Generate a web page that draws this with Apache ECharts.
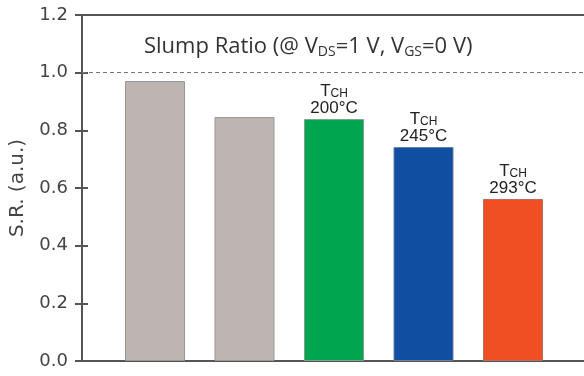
<!DOCTYPE html>
<html><head><meta charset="utf-8">
<script src="https://cdn.jsdelivr.net/npm/echarts@6/dist/echarts.min.js"></script>
<style>html,body{margin:0;padding:0;background:#fff}#c{width:584px;height:376px}</style>
</head><body><div id="c"></div>
<script>
const categories = ['Sample 1', 'Sample 2', 'T_CH 200', 'T_CH 245', 'T_CH 293'];
const values = [0.971, 0.846, 0.839, 0.742, 0.562];
const tempLabels = ['', '', '200°C', '245°C', '293°C'];
const barColors = ['#bdb5b2', '#bdb5b2', '#00a54f', '#0f4ea0', '#f04e23'];
const borderColors = ['#9d9593', '#9d9593', '#7fa08a', '#6f7f9a', '#b07060'];
const refLine = 1.0;

const chart = echarts.init(document.getElementById('c'));
const font = 'Liberation Sans, Arial, sans-serif';
const tickFont = 'DejaVu Sans, sans-serif';
chart.setOption({
  animation: false,
  title: {
    text: 'Slump Ratio (@ V{s|DS}=1 V, V{s|GS}=0 V)',
    left: 139, top: 29,
    textStyle: {
      fontFamily: 'Open Sans, sans-serif', fontSize: 22, fontWeight: 'normal', color: '#333',
      rich: { s: { fontFamily: 'Open Sans, sans-serif', fontSize: 14, color: '#333', verticalAlign: 'bottom', padding: [11, 0, 0, 0] } }
    }
  },
  grid: [
    { left: 80, right: 0, top: 15, bottom: 15 },
    { left: 110.25, width: 447.5, top: 15, bottom: 15 }
  ],
  xAxis: [
    { type: 'category', gridIndex: 0, data: [''], axisLine: { onZero: false, lineStyle: { color: '#555', width: 2 } }, axisTick: { show: false }, axisLabel: { show: false } },
    { type: 'category', gridIndex: 0, position: 'top', data: [''], axisLine: { onZero: false, lineStyle: { color: '#555', width: 2 } }, axisTick: { show: false }, axisLabel: { show: false } },
    { type: 'category', gridIndex: 1, data: categories, axisLine: { show: false }, axisTick: { show: false }, axisLabel: { show: false } }
  ],
  yAxis: [
    { type: 'value', gridIndex: 0, min: 0, max: 1.2, interval: 0.2,
      name: 'S.R. (a.u.)', nameLocation: 'middle', nameGap: 54,
      nameTextStyle: { fontFamily: tickFont, fontSize: 20, color: '#444' },
      axisLine: { show: true, onZero: false, lineStyle: { color: '#555', width: 2 } },
      axisTick: { show: true, length: 7, lineStyle: { color: '#555', width: 2 } },
      axisLabel: { fontFamily: tickFont, fontSize: 18, color: '#444', margin: 14, formatter: v => v.toFixed(1) },
      splitLine: { show: false } },
    { type: 'value', gridIndex: 0, position: 'left', min: 0, max: 1.2, interval: 0.2,
      axisLine: { show: false, onZero: false },
      axisTick: { show: true, inside: true, length: 6, lineStyle: { color: '#555', width: 2 } },
      axisLabel: { show: false }, splitLine: { show: false } },
    { type: 'value', gridIndex: 1, min: 0, max: 1.2, interval: 0.2, show: false }
  ],
  series: [
    { type: 'bar', xAxisIndex: 0, yAxisIndex: 0, data: [],
      markLine: { silent: true, symbol: 'none', label: { show: false },
        lineStyle: { type: [4, 3], color: '#777', width: 1.2 },
        data: [{ yAxis: refLine }] } },
    { type: 'bar', xAxisIndex: 2, yAxisIndex: 2, barWidth: 60,
      data: values.map((v, i) => ({ value: v, itemStyle: { color: barColors[i], borderColor: borderColors[i], borderWidth: 1 } })),
      label: { show: true, position: 'top', distance: 2,
        formatter: p => tempLabels[p.dataIndex] ? '{t|T}{s|CH}\n{n|' + tempLabels[p.dataIndex] + '}' : '',
        rich: {
          t: { fontFamily: font, fontSize: 17, color: '#222', lineHeight: 17 },
          s: { fontFamily: font, fontSize: 12, color: '#222', verticalAlign: 'bottom', padding: [8, 0, 0, 0], lineHeight: 17 },
          n: { fontFamily: font, fontSize: 17, color: '#222', lineHeight: 17 }
        } } }
  ]
});
</script></body></html>
